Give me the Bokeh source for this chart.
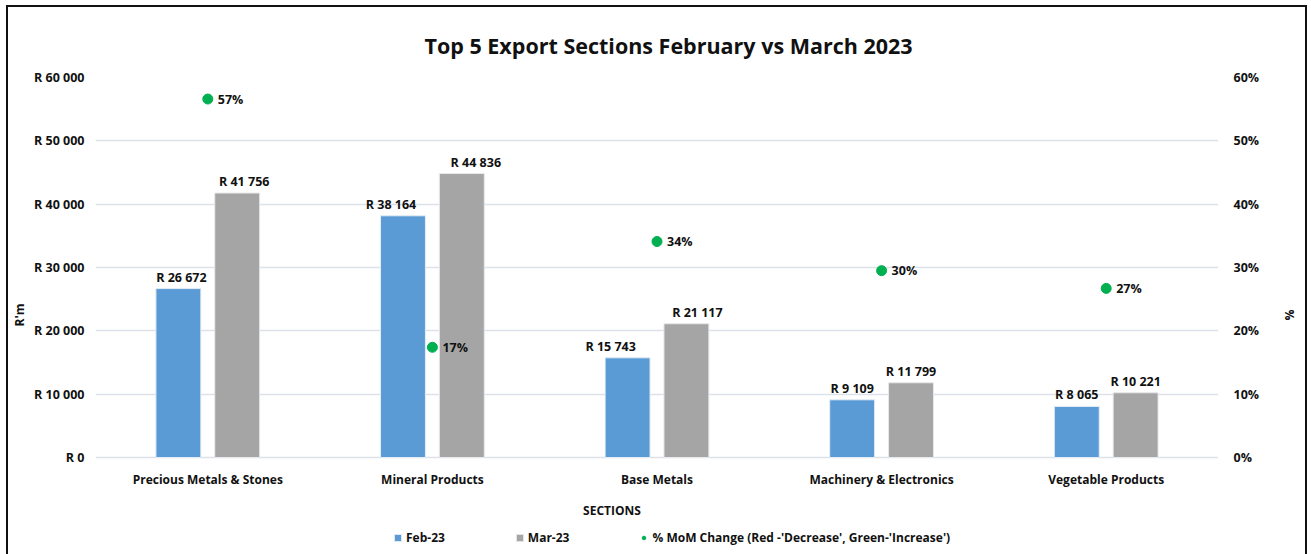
from bokeh.plotting import figure
from bokeh.models import (Range1d, LinearAxis, FixedTicker, ColumnDataSource,
                          Legend, LegendItem)
from bokeh.core.properties import value
from bokeh.embed import file_html
from bokeh.resources import INLINE

# ---- data ----
sections = ["Precious Metals & Stones", "Mineral Products", "Base Metals",
            "Machinery & Electronics", "Vegetable Products"]
feb_23 = [26672, 38164, 15743, 9109, 8065]
mar_23 = [41756, 44836, 21117, 11799, 10221]
mom_change_pct = [56.6, 17.4, 34.1, 29.5, 26.7]
left_ticks = [0, 10000, 20000, 30000, 40000, 50000, 60000]
right_ticks = [0, 10, 20, 30, 40, 50, 60]

# ---- label nudges in pixels (layout only) ----
feb_label_dx = [3, -12, -17, 0, 0]
mar_label_dx = [7, 14, 11, 0, 0]

FONT = "Open Sans"
BLUE = "#5b9bd5"
GREY = "#a5a5a5"
GREEN = "#00b050"
GRID = "#dde2ea"
TXT = "#111111"
PX_PER_CAT = 225.2

def rand(v):
    return "R " + f"{v:,}".replace(",", " ")

off = 0.131
w = 0.2
centers = [i + 0.5 for i in range(len(sections))]

src = ColumnDataSource(dict(
    xc=centers,
    xf=[c - off for c in centers],
    xm=[c + off for c in centers],
    xfl=[c - off + d / PX_PER_CAT for c, d in zip(centers, feb_label_dx)],
    xml=[c + off + d / PX_PER_CAT for c, d in zip(centers, mar_label_dx)],
    feb=feb_23, mar=mar_23, mom=mom_change_pct,
    feb_lbl=[rand(v) for v in feb_23], mar_lbl=[rand(v) for v in mar_23],
    mom_lbl=[f"{round(v)}%" for v in mom_change_pct],
))

# frame extends below zero to hold the category axis and legend
p = figure(x_range=Range1d(0, len(sections)), y_range=Range1d(-15000, 60000),
           width=1297, height=547, output_backend="svg", toolbar_location=None,
           x_axis_location=None,
           min_border_left=84, min_border_right=87, min_border_top=70, min_border_bottom=2)
p.margin = (7, 0, 0, 8)
p.styles = {"outline": "2px solid #111"}
p.outline_line_color = None
p.extra_y_ranges = {"pct": Range1d(-15, 60)}

p.title.text = "Top 5 Export Sections  February vs March 2023"
p.title.align = "left"
p.title.offset = 329
p.title.standoff = 36
p.title.text_font = FONT
p.title.text_font_size = "21.5px"
p.title.text_font_style = "bold"
p.title.text_color = TXT

r_feb = p.vbar(x="xf", top="feb", width=w, source=src,
               fill_color=BLUE, line_color="#e4ecf5", line_width=1)
r_mar = p.vbar(x="xm", top="mar", width=w, source=src,
               fill_color=GREY, line_color="#e8e8e8", line_width=1)
r_mom = p.scatter(x="xc", y="mom", source=src, size=10, fill_color=GREEN, line_color=GREEN,
                  y_range_name="pct")

common = dict(text_font=value(FONT), text_font_style="bold", text_font_size="12.5px",
              text_color=TXT)
p.text(x="xfl", y="feb", text="feb_lbl", source=src,
       text_align="center", text_baseline="bottom", y_offset=-3, **common)
p.text(x="xml", y="mar", text="mar_lbl", source=src,
       text_align="center", text_baseline="bottom", y_offset=-3, **common)
p.text(x="xc", y="mom", text="mom_lbl", source=src, y_range_name="pct",
       text_align="left", text_baseline="middle", x_offset=10, **common)

def style_axis(ax, size="12px"):
    ax.axis_line_color = None
    ax.major_tick_line_color = None
    ax.minor_tick_line_color = None
    ax.major_tick_out = 0
    ax.major_tick_in = 0
    ax.minor_tick_out = 0
    ax.minor_tick_in = 0
    ax.major_label_text_font = FONT
    ax.major_label_text_font_style = "bold"
    ax.major_label_text_font_size = size
    ax.major_label_text_color = TXT
    ax.axis_label_text_font = FONT
    ax.axis_label_text_font_style = "bold"
    ax.axis_label_text_font_size = "12px"
    ax.axis_label_text_color = TXT

# category axis drawn at y = 0 inside the frame
xa = LinearAxis(ticker=FixedTicker(ticks=centers), axis_label="SECTIONS",
                fixed_location=0, bounds=(0, 4.6))
xa.major_label_overrides = {c: s for c, s in zip(centers, sections)}
style_axis(xa, "12px")
xa.major_label_standoff = 13
xa.axis_label_standoff = 11
p.add_layout(xa, "below")

ly = p.yaxis[0]
style_axis(ly, "12.5px")
ly.axis_label = "R'm"
ly.ticker = FixedTicker(ticks=left_ticks)
ly.bounds = (0, 60000)
ly.major_label_overrides = {t: rand(t) for t in left_ticks}
ly.major_label_standoff = 11
ly.axis_label_standoff = 3

ry = LinearAxis(y_range_name="pct", ticker=FixedTicker(ticks=right_ticks),
                axis_label="%", bounds=(0, 60))
ry.major_label_overrides = {t: f"{t}%" for t in right_ticks}
style_axis(ry, "12.5px")
ry.major_label_standoff = 15
ry.axis_label_standoff = 19
p.add_layout(ry, "right")

p.xgrid.grid_line_color = None
p.ygrid.grid_line_color = GRID
p.ygrid.grid_line_width = 1.3
p.ygrid.ticker = FixedTicker(ticks=left_ticks)

legend = Legend(items=[
    LegendItem(label="Feb-23", renderers=[r_feb]),
    LegendItem(label="Mar-23", renderers=[r_mar]),
    LegendItem(label="% MoM Change (Red -'Decrease', Green-'Increase')", renderers=[r_mom]),
], orientation="horizontal", location=(298, 6))
legend.label_text_font = FONT
legend.label_text_font_style = "bold"
legend.label_text_font_size = "12px"
legend.label_text_color = TXT
legend.glyph_width = 9
legend.glyph_height = 9
legend.label_standoff = 4
legend.spacing = 70
legend.border_line_color = None
legend.background_fill_alpha = 0
legend.padding = 0
legend.margin = 0
p.add_layout(legend)

open("out.html", "w").write(file_html(p, INLINE))
